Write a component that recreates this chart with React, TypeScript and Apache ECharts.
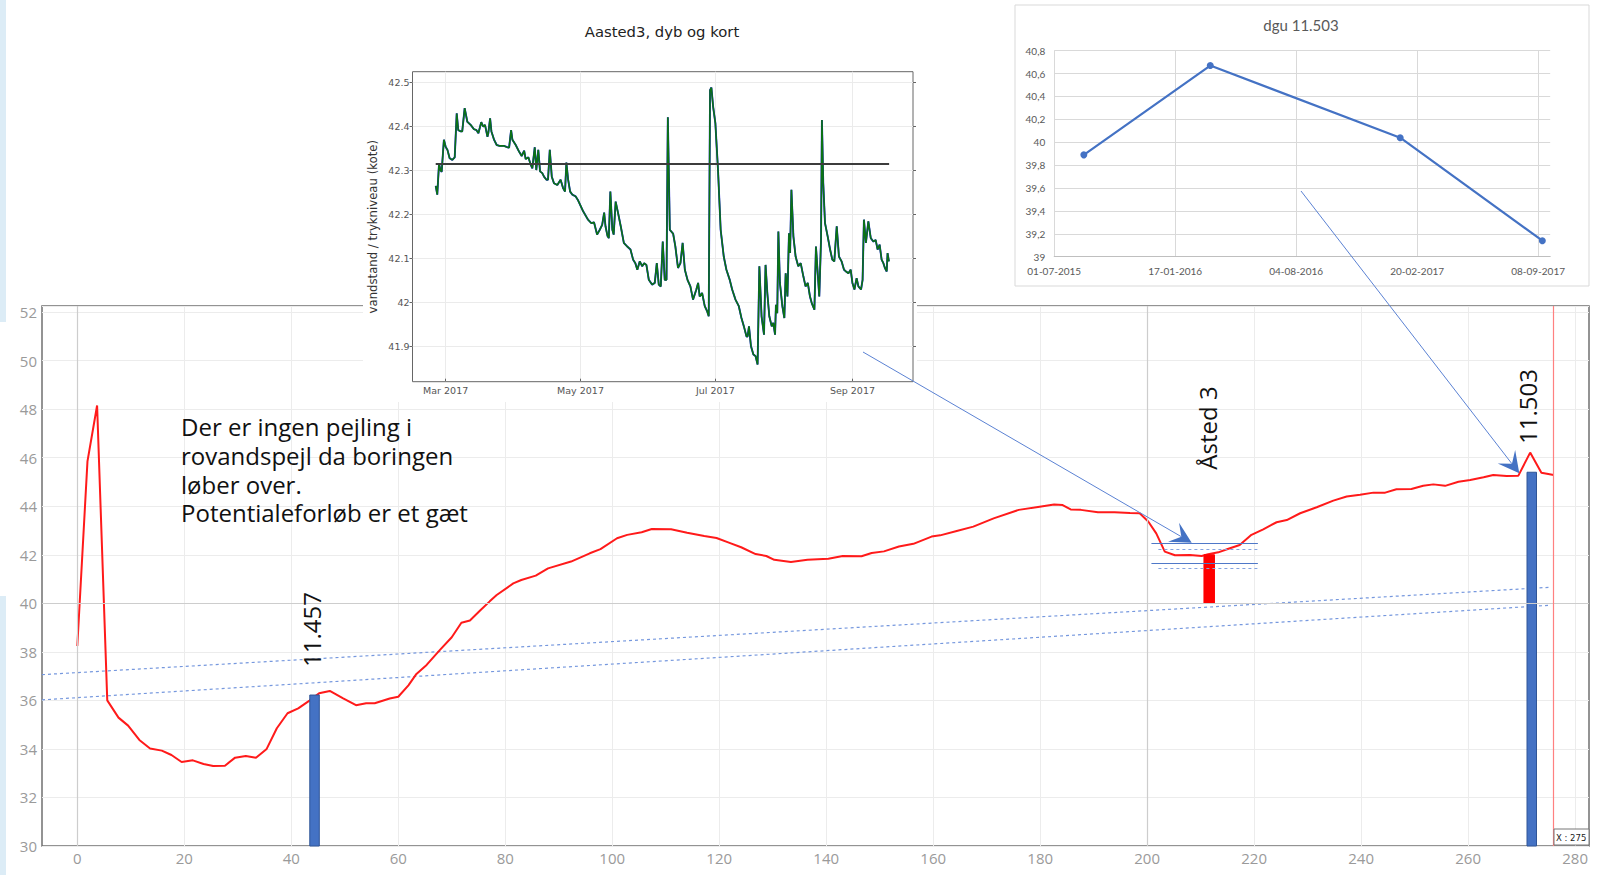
import React, { useEffect, useRef } from "react";
import * as echarts from "echarts";

// ---------- Main profile: distance (x) vs. kote (y) ----------
const redProfile: [number, number][] = [
  [0, 38.24], [1.9, 45.85], [3.7, 48.15], [5.6, 36.0], [7.7, 35.29], [9.5, 34.96], [11.6, 34.37],
  [13.6, 34.02], [15.8, 33.93], [17.6, 33.75], [19.5, 33.46], [21.6, 33.53], [23.6, 33.38],
  [25.4, 33.3], [27.6, 33.31], [29.5, 33.64], [31.5, 33.71], [33.4, 33.64], [35.4, 34.0],
  [37.3, 34.85], [39.3, 35.47], [41.3, 35.67], [43.4, 35.99], [45.2, 36.29], [47.2, 36.39],
  [49.7, 36.08], [52.1, 35.8], [54.0, 35.88], [55.6, 35.88], [58.4, 36.08], [60.0, 36.15],
  [61.9, 36.62], [63.4, 37.09], [65.3, 37.46], [67.8, 38.08], [70.0, 38.6], [71.8, 39.2],
  [73.4, 39.29], [75.3, 39.7], [77.1, 40.08], [78.4, 40.34], [81.5, 40.82], [83.0, 40.96],
  [85.7, 41.14], [88.0, 41.44], [92.3, 41.72], [95.8, 42.06], [97.8, 42.23], [100.9, 42.68],
  [102.8, 42.82], [105.5, 42.93], [107.4, 43.06], [111.0, 43.05], [114.0, 42.91], [117.2, 42.77],
  [119.5, 42.69], [121.8, 42.5], [124.1, 42.31], [126.8, 42.03], [128.8, 41.95], [130.3, 41.79],
  [133.4, 41.7], [136.5, 41.79], [140.4, 41.84], [143.1, 41.95], [146.6, 41.94], [148.5, 42.07],
  [150.8, 42.14], [153.6, 42.34], [156.3, 42.45], [159.7, 42.75], [161.3, 42.8], [164.4, 42.98],
  [167.5, 43.16], [171.3, 43.5], [176.0, 43.85], [179.9, 43.98], [182.6, 44.07], [184.2, 44.05],
  [185.7, 43.87], [187.6, 43.85], [190.8, 43.75], [193.9, 43.75], [196.8, 43.72], [198.6, 43.71],
  [200.2, 43.37], [201.7, 42.88], [203.3, 42.13], [205.2, 41.98], [208.0, 41.99], [210.2, 41.95],
  [211.4, 42.02], [213.3, 42.1], [215.2, 42.25], [217.3, 42.4], [219.5, 42.82], [221.7, 43.05],
  [224.2, 43.34], [226.1, 43.43], [228.6, 43.71], [231.7, 43.96], [234.8, 44.23], [237.3, 44.4],
  [239.8, 44.47], [242.3, 44.56], [244.5, 44.56], [246.6, 44.7], [249.4, 44.71], [251.6, 44.84],
  [253.5, 44.9], [255.7, 44.84], [258.2, 45.01], [260.4, 45.08], [262.9, 45.19], [264.7, 45.29],
  [267.2, 45.25], [269.4, 45.26], [271.6, 46.21], [273.7, 45.38], [276.0, 45.29],
];
const dottedUpper: [number, number][] = [[-6.6, 37.06], [275.3, 40.66]];
const dottedLower: [number, number][] = [[-6.6, 36.02], [275.3, 39.92]];

const wellNames = ["11.457", "Åsted 3", "11.503"];
const wellX = [44.35, 211.6, 271.9];
const wellBottom = [30, 40, 30];
const wellTop = [36.22, 42.0, 45.4];

const astedSolidLevels = [42.47, 41.65];
const astedDashedLevels = [42.24, 41.44];
const astedLevelFrom = [200.8, 202.1];
const astedLevelTo = 220.7;
const cursorX = 276;

const mainXTicks = [0, 20, 40, 60, 80, 100, 120, 140, 160, 180, 200, 220, 240, 260, 280];
const mainRefLinesX = [0, 200];
const mainRefLinesY = [40];

// ---------- Inset: Aasted3, dyb og kort (day of year 2017, Jan 1 = 0) ----------
const aastedDay = [
  54.5, 55.2, 56.0, 56.7, 57.2, 58.2, 59.0, 59.8, 60.8, 62.0, 63.1, 64.0, 64.7, 65.8, 66.5, 67.6,
  68.8, 70.3, 71.8, 72.9, 73.8, 75.1, 76.0, 76.8, 77.9, 78.3, 79.1, 79.7, 80.9, 82.1, 83.4, 85.4,
  86.9, 87.7, 88.6, 89.2, 90.7, 92.2, 93.4, 94.5, 95.2, 96.4, 97.5, 98.2, 99.3, 100.0, 100.9, 101.7,
  102.7, 103.5, 104.6, 105.3, 106.1, 107.0, 108.0, 109.5, 111.0, 112.1, 113.0, 113.6, 114.4, 115.3,
  116.3, 117.8, 118.9, 121.2, 123.4, 124.9, 126.1, 127.5, 128.7, 129.8, 130.7, 131.3, 132.2, 132.8,
  133.5, 134.4, 135.0, 135.9, 137.0, 138.2, 139.6, 141.1, 142.6, 143.8, 144.8, 145.7, 146.8, 147.9,
  148.8, 149.8, 150.9, 152.4, 153.6, 154.5, 155.4, 156.3, 157.2, 158.1, 158.9, 159.5, 160.4, 161.9,
  162.9, 164.1, 165.2, 166.2, 167.2, 168.4, 169.7, 170.9, 172.4, 173.2, 173.9, 175.0, 176.2, 177.3,
  178.0, 178.6, 179.2, 180.0, 181.0, 182.2, 183.4, 184.8, 186.0, 187.5, 188.6, 190.1, 191.6, 192.8,
  193.9, 195.1, 195.6, 196.2, 197.1, 198.2, 199.2, 200.1, 200.9, 201.9, 203.0, 203.7, 204.5, 205.4,
  206.5, 207.2, 208.0, 208.4, 209.0, 209.5, 210.2, 211.3, 212.2, 212.8, 213.6, 214.3, 214.8, 215.4,
  216.3, 217.3, 218.5, 219.6, 220.8, 221.8, 222.8, 223.8, 224.6, 225.8, 226.5, 227.3, 228.0, 228.8,
  229.2, 229.8, 230.6, 231.8, 232.9, 233.9, 234.8, 235.9, 236.9, 238.1, 239.2, 240.1, 241.2, 242.2,
  243.0, 243.9, 244.9, 245.7, 246.9, 247.6, 248.2, 249.1, 250.2, 251.3, 252.5, 253.5, 254.4, 255.3,
  256.2, 257.0, 257.7, 258.5, 258.9, 259.5,
];
const aastedLevel = [
  42.265, 42.245, 42.315, 42.3, 42.297, 42.37, 42.354, 42.347, 42.328, 42.324, 42.33, 42.43, 42.392,
  42.389, 42.389, 42.442, 42.411, 42.404, 42.394, 42.392, 42.385, 42.41, 42.4, 42.404, 42.377,
  42.385, 42.419, 42.389, 42.37, 42.358, 42.356, 42.356, 42.353, 42.352, 42.392, 42.37, 42.358,
  42.343, 42.333, 42.345, 42.326, 42.33, 42.313, 42.305, 42.353, 42.301, 42.347, 42.298, 42.294,
  42.286, 42.279, 42.279, 42.347, 42.286, 42.271, 42.267, 42.279, 42.26, 42.252, 42.318, 42.279,
  42.252, 42.245, 42.241, 42.232, 42.207, 42.188, 42.18, 42.182, 42.154, 42.165, 42.176, 42.204,
  42.173, 42.151, 42.146, 42.252, 42.165, 42.154, 42.229, 42.203, 42.173, 42.135, 42.127, 42.12,
  42.097, 42.089, 42.074, 42.093, 42.082, 42.089, 42.085, 42.051, 42.04, 42.044, 42.089, 42.04,
  42.036, 42.138, 42.051, 42.051, 42.421, 42.165, 42.156, 42.127, 42.078, 42.089, 42.135, 42.074,
  42.051, 42.036, 42.006, 42.029, 42.044, 42.013, 42.021, 41.991, 41.979, 41.968, 42.483, 42.489,
  42.445, 42.408, 42.301, 42.165, 42.104, 42.074, 42.051, 42.029, 42.006, 41.991, 41.964, 41.945,
  41.922, 41.922, 41.945, 41.9, 41.881, 41.877, 41.858, 42.082, 41.968, 41.926, 42.085, 42.021,
  41.968, 41.945, 41.953, 41.926, 41.994, 41.975, 42.161, 42.044, 41.991, 41.964, 42.066, 42.013,
  42.157, 42.112, 42.256, 42.15, 42.104, 42.082, 42.089, 42.059, 42.036, 42.044, 42.013, 41.998,
  41.983, 42.127, 42.066, 42.013, 42.142, 42.415, 42.271, 42.18, 42.15, 42.12, 42.097, 42.093,
  42.173, 42.104, 42.093, 42.074, 42.07, 42.066, 42.074, 42.044, 42.029, 42.055, 42.036, 42.029,
  42.051, 42.188, 42.135, 42.184, 42.146, 42.138, 42.142, 42.12, 42.131, 42.097, 42.089, 42.078,
  42.07, 42.112, 42.093,
];
const aastedRefLevel = 42.315;
const aastedRefFrom = 54.5;
const aastedRefTo = 259.6;
const aastedTickDates = ["2017-03-01", "2017-05-01", "2017-07-01", "2017-09-01"];
const aastedTickLabels = ["Mar 2017", "May 2017", "Jul 2017", "Sep 2017"];
const aastedYTicks = [41.9, 42.0, 42.1, 42.2, 42.3, 42.4, 42.5];

// ---------- Inset: dgu 11.503 ----------
const dguDates = ["2015-08-19", "2016-03-15", "2017-01-23", "2017-09-15"];
const dguLevels = [39.89, 40.67, 40.04, 39.14];
const dguTickDays = [0, 200, 400, 600, 800];

const noteLines = ["Der er ingen pejling i", "rovandspejl da boringen", "løber over.", "Potentialeforløb er et gæt"];

const DAY = 86400000;
const YEAR_START_2017 = Date.UTC(2017, 0, 1);
const DGU_BASE = Date.UTC(2015, 6, 1);
const isoToMs = (s: string) => {
  const [y, m, d] = s.split("-").map(Number);
  return Date.UTC(y, m - 1, d);
};
const pad = (n: number) => (n < 10 ? "0" + n : "" + n);

function arrow(x0: number, y0: number, x1: number, y1: number) {
  const dx = x1 - x0, dy = y1 - y0, len = Math.hypot(dx, dy);
  const ux = dx / len, uy = dy / len, nx = -uy, ny = ux;
  const L = 21, W = 11, N = 12;
  const notch = [x1 - ux * N, y1 - uy * N];
  return [
    { type: "line", z: 30, shape: { x1: x0, y1: y0, x2: notch[0], y2: notch[1] }, style: { stroke: "#5b82d3", lineWidth: 1 } },
    {
      type: "polygon", z: 30,
      shape: { points: [[x1, y1], [x1 - ux * L + nx * W, y1 - uy * L + ny * W], notch, [x1 - ux * L - nx * W, y1 - uy * L - ny * W]] },
      style: { fill: "#4472c4" },
    },
  ];
}

export default function App() {
  const ref = useRef<HTMLDivElement>(null);
  useEffect(() => {
    if (!ref.current) return;
    const chart = echarts.init(ref.current, undefined, { renderer: "svg" });

    const aastedTickDays = aastedTickDates.map((s) => (isoToMs(s) - YEAR_START_2017) / DAY);
    const aastedData = aastedDay.map((d, i) => [d, aastedLevel[i]]);
    const dguData = dguDates.map((s, i) => [(isoToMs(s) - DGU_BASE) / DAY, dguLevels[i]]);
    const barData = wellX.map((x, i) => [x, wellBottom[i], wellTop[i], i]);
    const barFill = ["#4472c4", "#ff0000", "#4472c4"];
    const barStroke = ["#2f5597", "#ff0000", "#2f5597"];
    const barWidthPx = [9.5, 10.5, 9.5];

    const mainFont = "Open Sans";
    const gridColor = "#ececec";

    const option: any = {
      animation: false,
      backgroundColor: "#ffffff",
      grid: [
        { left: 42, top: 306, right: 11, bottom: 29, show: true, borderColor: "#707070", borderWidth: 1.5, backgroundColor: "transparent", z: 0 },
        { left: 412.5, top: 71.7, width: 500.5, height: 310, show: true, borderColor: "#666", borderWidth: 1, backgroundColor: "#fff", z: 11 },
        { left: 1054.2, top: 50.7, width: 496, height: 206, show: false, z: 11 },
      ],
      xAxis: [
        {
          type: "value", gridIndex: 0, min: -6.6, max: 282.6,
          axisLine: { show: false },
          axisTick: { show: false, customValues: mainXTicks },
          axisLabel: { customValues: mainXTicks, color: "#9a9a9a", fontSize: 15, fontFamily: mainFont, margin: 4 },
          splitLine: { show: true, lineStyle: { color: gridColor, width: 1 } },
        },
        {
          type: "value", gridIndex: 1, min: 44, max: 270.4, z: 12,
          axisLine: { show: false },
          axisTick: { show: true, inside: true, length: 3, customValues: aastedTickDays, lineStyle: { color: "#666" } },
          axisLabel: {
            customValues: aastedTickDays, color: "#555", fontSize: 9.5, fontFamily: "DejaVu Sans", margin: 4,
            formatter: (v: number) => {
              const i = aastedTickDays.findIndex((t) => Math.abs(t - v) < 0.01);
              return i >= 0 ? aastedTickLabels[i] : "";
            },
          },
          splitLine: { show: true, lineStyle: { color: "#ebebeb" } },
        },
        {
          type: "value", gridIndex: 2, min: 0, max: 820, z: 12,
          axisLine: { show: true, lineStyle: { color: "#bfbfbf", width: 1 } },
          axisTick: { show: false, customValues: dguTickDays },
          axisLabel: {
            customValues: dguTickDays, color: "#595959", fontSize: 10, fontFamily: "Lato", margin: 9,
            formatter: (v: number) => {
              const t = new Date(DGU_BASE + v * DAY);
              return pad(t.getUTCDate()) + "-" + pad(t.getUTCMonth() + 1) + "-" + t.getUTCFullYear();
            },
          },
          splitLine: { show: true, lineStyle: { color: "#d9d9d9" } },
        },
      ],
      yAxis: [
        {
          type: "value", gridIndex: 0, min: 30, max: 52.25, interval: 2,
          axisLine: { show: false }, axisTick: { show: false },
          axisLabel: {
            color: "#9a9a9a", fontSize: 15, fontFamily: mainFont, margin: 5,
            formatter: (v: number) => (Math.abs(v - Math.round(v)) < 1e-6 ? String(Math.round(v)) : ""),
          },
          splitLine: { show: true, lineStyle: { color: gridColor, width: 1 } },
        },
        {
          type: "value", gridIndex: 1, min: 41.819, max: 42.525, z: 12,
          axisLine: { show: false },
          axisTick: { show: true, length: 3, customValues: aastedYTicks, lineStyle: { color: "#666" } },
          axisLabel: {
            customValues: aastedYTicks, color: "#555", fontSize: 9.5, fontFamily: "DejaVu Sans", margin: 3,
            formatter: (v: number) => String(+v.toFixed(2)),
          },
          splitLine: { show: true, lineStyle: { color: "#ebebeb" } },
          name: "vandstand / trykniveau (kote)", nameLocation: "middle", nameGap: 34,
          nameTextStyle: { fontSize: 11.7, color: "#333", fontFamily: "DejaVu Sans" },
        },
        {
          type: "value", gridIndex: 1, min: 41.819, max: 42.525, position: "right", z: 12,
          axisLine: { show: false },
          axisTick: { show: true, length: 3, customValues: aastedYTicks, lineStyle: { color: "#666" } },
          axisLabel: { show: false, customValues: aastedYTicks },
          splitLine: { show: false },
        },
        {
          type: "value", gridIndex: 2, min: 39, max: 40.8, interval: 0.2, z: 12,
          axisLine: { show: false }, axisTick: { show: false },
          axisLabel: {
            color: "#595959", fontSize: 10, fontFamily: "Lato", margin: 9,
            formatter: (v: number) => String(+v.toFixed(1)).replace(".", ","),
          },
          splitLine: { show: true, lineStyle: { color: "#d9d9d9" } },
        },
      ],
      series: [
        {
          type: "line", xAxisIndex: 0, yAxisIndex: 0, data: [], z: 1, silent: true,
          markLine: {
            silent: true, symbol: "none", label: { show: false },
            lineStyle: { color: "#cdcdcd", width: 1.2, type: "solid" },
            data: [...mainRefLinesY.map((y) => ({ yAxis: y })), ...mainRefLinesX.map((x) => ({ xAxis: x }))],
          },
        },
        {
          type: "line", xAxisIndex: 0, yAxisIndex: 0, data: dottedUpper, symbol: "none", z: 2,
          lineStyle: { color: "#7698de", width: 1.2, type: [3, 3] },
        },
        {
          type: "line", xAxisIndex: 0, yAxisIndex: 0, data: dottedLower, symbol: "none", z: 2,
          lineStyle: { color: "#7698de", width: 1.2, type: [3, 3] },
        },
        {
          type: "line", xAxisIndex: 0, yAxisIndex: 0, data: [], z: 2, silent: true,
          markLine: {
            silent: true, symbol: "none", label: { show: false },
            data: [
              ...astedSolidLevels.map((y) => [
                { coord: [astedLevelFrom[0], y], lineStyle: { color: "#4f78c8", width: 1.2, type: "solid" } },
                { coord: [astedLevelTo, y] },
              ]),
              ...astedDashedLevels.map((y) => [
                { coord: [astedLevelFrom[1], y], lineStyle: { color: "#86a3de", width: 1.2, type: [3, 3] } },
                { coord: [astedLevelTo, y] },
              ]),
            ],
          },
        },
        {
          type: "line", xAxisIndex: 0, yAxisIndex: 0, data: redProfile, symbol: "none", z: 3,
          lineStyle: { color: "#ff1a1a", width: 2 },
          markLine: {
            silent: true, symbol: "none", label: { show: false },
            lineStyle: { color: "#ff8080", width: 1.2, type: "solid" },
            data: [{ xAxis: cursorX }],
          },
        },
        {
          type: "custom", xAxisIndex: 0, yAxisIndex: 0, data: barData, z: 4,
          renderItem: (params: any, api: any) => {
            const x = api.value(0), y0 = api.value(1), y1 = api.value(2), i = api.value(3);
            const p0 = api.coord([x, y0]);
            const p1 = api.coord([x, y1]);
            const w = barWidthPx[i];
            return {
              type: "rect",
              shape: { x: p0[0] - w / 2, y: p1[1], width: w, height: p0[1] - p1[1] },
              style: { fill: barFill[i], stroke: barStroke[i], lineWidth: 1 },
            };
          },
        },
        // Aasted3 inset
        {
          type: "line", xAxisIndex: 1, yAxisIndex: 1, data: aastedData, symbol: "none", z: 13,
          lineStyle: { color: "#1a1ae0", width: 1.9 },
        },
        {
          type: "line", xAxisIndex: 1, yAxisIndex: 1, data: aastedData, symbol: "none", z: 14,
          lineStyle: { color: "#0b7214", width: 1.6 },
        },
        {
          type: "line", xAxisIndex: 1, yAxisIndex: 1, z: 15, symbol: "none",
          data: [[aastedRefFrom, aastedRefLevel], [aastedRefTo, aastedRefLevel]],
          lineStyle: { color: "#3c3c3c", width: 2 },
        },
        // dgu inset
        {
          type: "line", xAxisIndex: 2, yAxisIndex: 3, data: dguData, z: 13,
          symbol: "circle", symbolSize: 7,
          lineStyle: { color: "#4472c4", width: 2.2 }, itemStyle: { color: "#4472c4" },
        },
      ],
      graphic: [
        { type: "rect", z: 5, shape: { x: 0, y: 0, width: 6, height: 322 }, style: { fill: "#dcecf6" } },
        { type: "rect", z: 5, shape: { x: 0, y: 596, width: 6, height: 279 }, style: { fill: "#dcecf6" } },
        { type: "rect", z: 10, shape: { x: 363, y: 0, width: 554, height: 402 }, style: { fill: "#ffffff" } },
        { type: "rect", z: 10, shape: { x: 1015, y: 5, width: 574, height: 281 }, style: { fill: "#ffffff", stroke: "#d9d9d9", lineWidth: 1 } },
        {
          type: "text", z: 20, x: 662, y: 31,
          style: { text: "Aasted3, dyb og kort", fill: "#222", font: "14.8px 'DejaVu Sans'", textAlign: "center", textVerticalAlign: "middle" },
        },
        {
          type: "text", z: 20, x: 1301, y: 25,
          style: { text: "dgu 11.503", fill: "#595959", font: "15px Lato", textAlign: "center", textVerticalAlign: "middle" },
        },
        ...noteLines.map((t, i) => ({
          type: "text", z: 20, x: 181, y: 426.5 + i * 28.8,
          style: { text: t, fill: "#111", font: "24px 'Open Sans'", textAlign: "left", textVerticalAlign: "middle" },
        })),
        {
          type: "text", z: 20, x: 311, y: 629.5, rotation: Math.PI / 2,
          style: { text: wellNames[0], fill: "#111", font: "24px 'Open Sans'", textAlign: "center", textVerticalAlign: "middle" },
        },
        {
          type: "text", z: 20, x: 1207.5, y: 428, rotation: Math.PI / 2,
          style: { text: wellNames[1], fill: "#111", font: "24px 'Open Sans'", textAlign: "center", textVerticalAlign: "middle" },
        },
        {
          type: "text", z: 20, x: 1527, y: 406.5, rotation: Math.PI / 2,
          style: { text: wellNames[2], fill: "#111", font: "24px 'Open Sans'", textAlign: "center", textVerticalAlign: "middle" },
        },
        ...arrow(863, 352, 1191.7, 542.7),
        ...arrow(1301, 191, 1519.3, 473.3),
        { type: "rect", z: 20, shape: { x: 1554, y: 829, width: 35, height: 16 }, style: { fill: "#fff", stroke: "#777", lineWidth: 1 } },
        {
          type: "text", z: 21, x: 1556, y: 837.5,
          style: { text: "X : 275.9", fill: "#222", font: "8.5px 'DejaVu Sans'", textVerticalAlign: "middle", width: 35, overflow: "truncate", ellipsis: "" },
        },
      ],
    };
    chart.setOption(option);
    return () => chart.dispose();
  }, []);
  return <div ref={ref} style={{ position: "fixed", left: 0, top: 0, width: 1600, height: 875, background: "#fff" }} />;
}
